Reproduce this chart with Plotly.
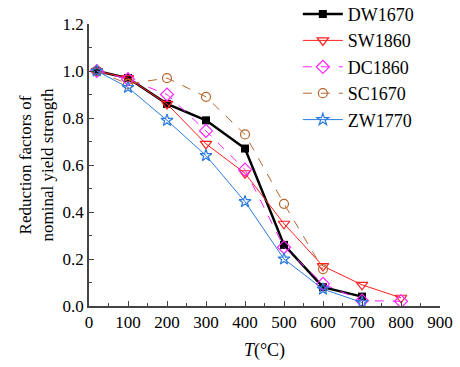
import plotly.graph_objects as go

temps = [20, 100, 200, 300, 400, 500, 600, 700, 800]

dw1670 = [1.0, 0.97, 0.86, 0.79, 0.67, 0.26, 0.08, 0.04]
sw1860 = [1.0, 0.97, 0.86, 0.69, 0.565, 0.35, 0.17, 0.09, 0.035]
dc1860 = [1.0, 0.965, 0.90, 0.745, 0.58, 0.25, 0.094, 0.023, 0.02]
sc1670 = [1.0, 0.945, 0.97, 0.89, 0.73, 0.435, 0.157]
zw1770 = [1.0, 0.93, 0.79, 0.64, 0.444, 0.20, 0.072, 0.015]

FONT = "'Times New Roman', 'Liberation Serif', serif"

series = [
    ("DW1670", dw1670, dict(color="black", width=2.5, dash="solid"),
     dict(symbol="square", size=8, color="black")),
    ("SW1860", sw1860, dict(color="#ff2020", width=1, dash="solid"),
     dict(symbol="triangle-down-open", size=10, color="#ff2020", line=dict(width=1.2))),
    ("DC1860", dc1860, dict(color="#ff22ff", width=1, dash="dash"),
     dict(symbol="diamond-open", size=10, color="#ff22ff", line=dict(width=1.2))),
    ("SC1670", sc1670, dict(color="#b8652a", width=1, dash="dash"),
     dict(symbol="circle-open", size=9, color="#b8652a", line=dict(width=1.2))),
    ("ZW1770", zw1770, dict(color="#2a7be0", width=1, dash="solid"),
     dict(symbol="star-open", size=9, color="#2a7be0", line=dict(width=1.2))),
]

fig = go.Figure()
for name, vals, line, marker in series:
    fig.add_trace(go.Scatter(x=temps[:len(vals)], y=vals, name=name, mode="lines+markers",
                             line=line, marker=marker))

axis_common = dict(
    showline=True, linecolor="#444", linewidth=1.5, mirror=False,
    ticks="inside", ticklen=5, tickcolor="#444", tickwidth=1,
    showgrid=False, zeroline=False,
    tickfont=dict(family=FONT, size=17, color="black"),
)

fig.update_layout(
    width=460, height=367,
    margin=dict(l=89, r=20, t=24, b=61, autoexpand=False),
    paper_bgcolor="white", plot_bgcolor="white",
    font=dict(family=FONT, size=17, color="black"),
    xaxis=dict(range=[0, 900], dtick=100, tick0=0,
               minor=dict(ticks="inside", ticklen=3, dtick=50, tickcolor="#444"),
               title=dict(text="<i>T</i>(°C)", font=dict(family=FONT, size=18), standoff=12),
               **axis_common),
    yaxis=dict(range=[0, 1.2], dtick=0.2, tick0=0, tickformat=".1f",
               minor=dict(ticks="inside", ticklen=3, dtick=0.1, tickcolor="#444"),
               title=dict(text="Reduction factors of<br>nominal yield strength",
                          font=dict(family=FONT, size=17), standoff=5),
               **axis_common),
    legend=dict(x=0.595, y=1.1, xanchor="left", yanchor="top",
                bgcolor="rgba(0,0,0,0)", font=dict(family=FONT, size=18),
                tracegroupgap=0, itemwidth=40),
    showlegend=True,
)

fig.write_html("out.html")
